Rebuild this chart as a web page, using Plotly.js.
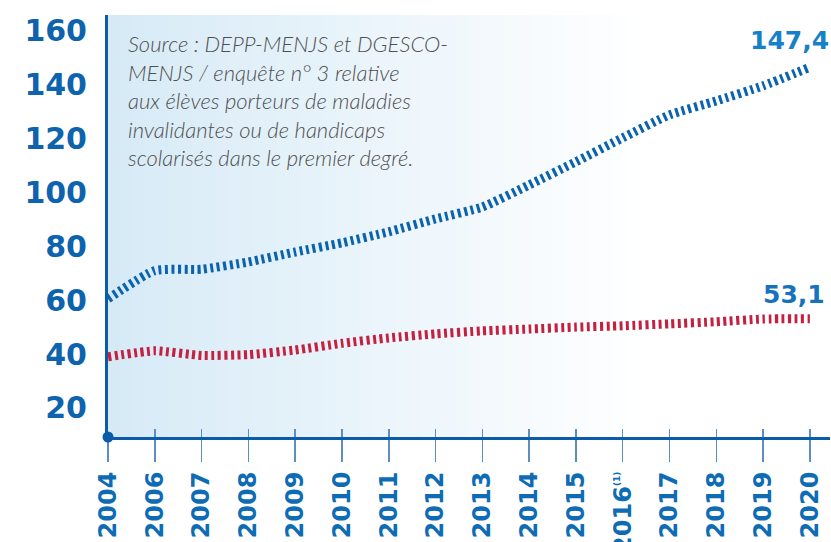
<!DOCTYPE html>
<html>
<head>
<meta charset="utf-8">
<script src="https://cdn.plot.ly/plotly-3.0.1.min.js"></script>
<style>html,body{margin:0;padding:0;background:#fff;}#chart{width:831px;height:542px;}</style>
</head>
<body>
<div id="chart"></div>
<script>
// ---- data ----
const years = ['2004','2006','2007','2008','2009','2010','2011','2012','2013','2014','2015','2016','2017','2018','2019','2020'];
const tickLabels = ['2004','2006','2007','2008','2009','2010','2011','2012','2013','2014','2015','2016<sup><span style="font-size:9px">(1)</span></sup>','2017','2018','2019','2020'];
const blueValues = [60.5, 71, 71.5, 74.2, 77.9, 81.3, 85.4, 90.2, 94.6, 102.8, 111.4, 120.3, 128.8, 134, 139.6, 146.5];
const redValues = [39, 41.2, 39.5, 39.8, 41.5, 44, 46, 47.5, 48.6, 49.3, 50, 50.5, 51.2, 52, 53, 53.1];
const blueLabel = '147,4';
const redLabel = '53,1';
const yTicks = [20, 40, 60, 80, 100, 120, 140, 160];
const sourceText = 'Source : DEPP-MENJS et DGESCO-<br>MENJS / enquête n° 3 relative<br>aux élèves porteurs de maladies<br>invalidantes ou de handicaps<br>scolarisés dans le premier degré.';

const axisBlue = '#0b5ca8';
const labelBlue = '#0d63ad';

// gradient background shapes
const shapes = [];
const N = 60;
function lerp(a,b,t){return Math.round(a+(b-a)*t);}
for (let i = 0; i < N; i++) {
  const t0 = i / N, t1 = (i + 1) / N;
  let f = Math.min(1, (t0 + 0.5/N) / 0.74);
  const r = lerp(214, 255, f), g = lerp(234, 255, f), b = lerp(246, 255, f);
  shapes.push({type:'rect', xref:'paper', yref:'paper', x0:t0, x1:t1+0.002, y0:0, y1:1,
    fillcolor:`rgb(${r},${g},${b})`, line:{width:0}, layer:'below'});
}
// origin dot
shapes.push({type:'circle', xref:'paper', yref:'paper', xsizemode:'pixel', ysizemode:'pixel',
  xanchor:0, yanchor:0, x0:-5.5, x1:5.5, y0:-5.5, y1:5.5, fillcolor:axisBlue, line:{width:0}, layer:'above'});

const traces = [
  {x: years, y: blueValues, type:'scatter', mode:'lines',
   line:{color:'#0b63b0', width:9, dash:'3px,3.5px', shape:'spline', smoothing:0.5},
   cliponaxis:false, hoverinfo:'skip'},
  {x: years, y: redValues, type:'scatter', mode:'lines',
   line:{color:'#c4203f', width:9, dash:'3px,3.5px', shape:'spline', smoothing:0.5},
   cliponaxis:false, hoverinfo:'skip'},
  {x: years, y: redValues, xaxis:'x2', yaxis:'y', type:'scatter', mode:'none', hoverinfo:'skip', showlegend:false}
];

const n = years.length;
const xRange = [0, 15.43];

const layout = {
  width: 831, height: 542,
  margin: {l: 108, r: 1, t: 15, b: 105},
  paper_bgcolor: '#ffffff',
  plot_bgcolor: 'rgba(0,0,0,0)',
  showlegend: false,
  shapes: shapes,
  xaxis: {
    type: 'category', categoryorder:'array', categoryarray: years,
    range: xRange,
    tickvals: years, ticktext: tickLabels,
    tickangle: -90,
    ticks: 'outside', ticklen: 22, tickwidth: 1.5, tickcolor: '#5b8fc4',
    tickfont: {family: 'DejaVu Sans', size: 24, color: '#0e6cb5', weight: 'bold'},
    ticklabelstandoff: 0,
    showline: true, linecolor: axisBlue, linewidth: 3,
    showgrid: false, zeroline: false
  },
  xaxis2: {
    type: 'category', categoryorder:'array', categoryarray: years,
    overlaying: 'x', range: xRange,
    tickvals: years.slice(1), ticks: 'inside', ticklen: 8, tickwidth: 1.5, tickcolor: '#5b8fc4',
    showticklabels: false, showgrid: false, zeroline: false, showline: false, side:'bottom'
  },
  yaxis: {
    range: [9.2, 165.9],
    tickvals: yTicks, ticktext: yTicks.map(String),
    ticks: '', ticklabelstandoff: 12,
    tickfont: {family: 'DejaVu Sans', size: 30, color: labelBlue, weight: 'bold'},
    showline: true, linecolor: axisBlue, linewidth: 3,
    showgrid: false, zeroline: false
  },
  annotations: [
    {xref:'paper', yref:'paper', x: 18/722, y: (437-28)/422, xanchor:'left', yanchor:'top', align:'left',
     text: sourceText, showarrow:false,
     font:{family:'Lato', size:22, color:'#505050', style:'italic', weight:300}},
    {xref:'x', yref:'y', x: n-1, y: blueValues[n-1], text: blueLabel, showarrow:false, xanchor:'right', yanchor:'middle',
     xshift: 21, yshift: 27, font:{family:'DejaVu Sans', size:25, color:'#1681c8', weight:'bold'}},
    {xref:'x', yref:'y', x: n-1, y: redValues[n-1], text: redLabel, showarrow:false, xanchor:'right', yanchor:'middle',
     xshift: 17, yshift: 24, font:{family:'DejaVu Sans', size:25, color:'#1672bd', weight:'bold'}}
  ]
};

Plotly.newPlot('chart', traces, layout, {staticPlot:true, displayModeBar:false});
</script>
</body>
</html>
